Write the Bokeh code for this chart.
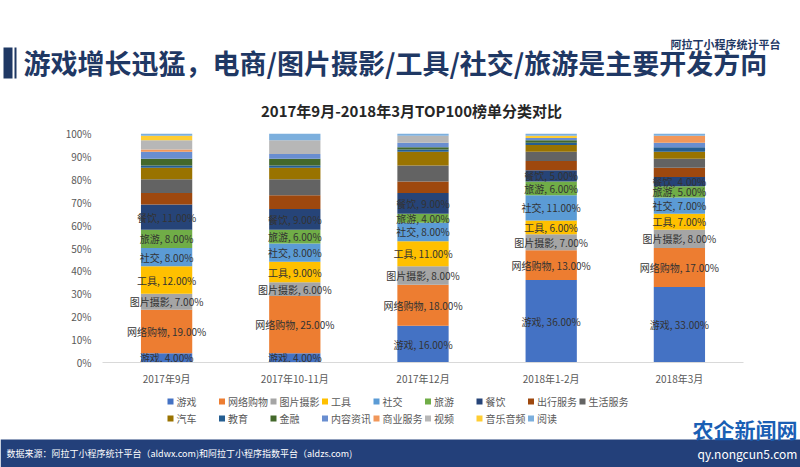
from bokeh.plotting import figure
from bokeh.layouts import column
from bokeh.models import (ColumnDataSource, Label, FixedTicker,
                          Range1d, FactorRange, PrintfTickFormatter)
from bokeh.core.properties import value
from bokeh.embed import file_html
from bokeh.resources import INLINE

# ---------------- data ----------------
months = ["2017年9月", "2017年10-11月", "2017年12月", "2018年1-2月", "2018年3月"]
categories = ["游戏", "网络购物", "图片摄影", "工具", "社交", "旅游", "餐饮",
              "出行服务", "生活服务", "汽车", "教育", "金融", "内容资讯",
              "商业服务", "视频", "音乐音频", "阅读"]

youxi      = [4, 4, 16, 36, 33]
gouwu      = [19, 25, 18, 13, 17]
sheying    = [7, 6, 8, 7, 8]
gongju     = [12, 9, 11, 6, 7]
shejiao    = [8, 8, 8, 11, 7]
lvyou      = [8, 6, 4, 6, 5]
canyin     = [11, 9, 9, 5, 4]
chuxing    = [5, 6, 5, 4, 4]
shenghuo   = [6, 7, 7, 4, 4]
qiche      = [5, 5, 6, 3, 3]
jiaoyu     = [1, 1, 1, 1, 2]
jinrong    = [3, 3, 1, 1, 0]
neirong    = [3, 2, 2, 1, 2]
shangye    = [1, 0, 0, 0, 3]
shipin     = [4, 6, 3, 0, 0]
yinyue     = [2, 0, 0, 1, 0]
yuedu      = [1, 3, 1, 1, 1]

series = [youxi, gouwu, sheying, gongju, shejiao, lvyou, canyin, chuxing,
          shenghuo, qiche, jiaoyu, jinrong, neirong, shangye, shipin, yinyue, yuedu]
labeled_count = 7  # categories that carry data labels

y_ticks = [0, 10, 20, 30, 40, 50, 60, 70, 80, 90, 100]

colors = ["#4472C4", "#ED7D31", "#A5A5A5", "#FFC000", "#5B9BD5", "#70AD47",
          "#264478", "#9E480E", "#636363", "#997300", "#255E91", "#43682B",
          "#698ED0", "#F1975A", "#B7B7B7", "#FFCD33", "#7CAFDD"]

header = "游戏增长迅猛，电商/图片摄影/工具/社交/旅游是主要开发方向"
chart_title = "2017年9月-2018年3月TOP100榜单分类对比"
logo_text = "阿拉丁小程序统计平台"
source_text = "数据来源：阿拉丁小程序统计平台（aldwx.com)和阿拉丁小程序指数平台（aldzs.com)"

FONT = "Noto Sans CJK SC"

# ---------------- layout geometry (canvas px) ----------------
W, H = 800, 467
TOP_H = 120            # header strip height
MID_H = 270            # chart strip height
FL, FR, FT, FB = 102, 743, 133, 362   # plot frame edges


def strip(y0, y1):
    f = figure(width=W, height=y1 - y0, x_range=Range1d(0, W), y_range=Range1d(y1, y0),
               output_backend="svg", toolbar_location=None,
               x_axis_type=None, y_axis_type=None, min_border=0, frame_align=False)
    f.outline_line_color = None
    f.background_fill_color = "white"
    f.border_fill_color = "white"
    return f


def add_text(f, cx, cy, text, size, color, bold=False, align="left"):
    f.add_layout(Label(x=cx, y=cy, text=text, text_font=FONT, text_font_size=f"{size}px",
                       text_color=color, text_font_style="bold" if bold else "normal",
                       text_align=align, text_baseline="middle"))


def add_box(f, x0, y0, x1, y1, color):
    f.quad(left=[x0], right=[x1], top=[y0], bottom=[y1], fill_color=color,
           line_color=None)


# ---------------- header strip ----------------
top = strip(0, TOP_H)
add_box(top, 3, 47, 12, 78, "#1F3864")
add_box(top, 14, 47, 16, 78, "#1F3864")
add_text(top, 23, 62, header, 27, "#1F3864", bold=True)
add_text(top, 670, 43, logo_text, 11, "#1F3864", bold=True)
add_text(top, 411, 110, chart_title, 15, "#262626", bold=True, align="center")

# ---------------- chart strip ----------------
data = {"month": months}
for name, vals in zip(categories, series):
    data[name] = vals
source = ColumnDataSource(data)

p = figure(width=W, height=MID_H, x_range=FactorRange(*months), y_range=Range1d(0, 100),
           output_backend="svg", toolbar_location=None, frame_align=False,
           min_border_left=FL, min_border_right=W - FR,
           min_border_top=FT - TOP_H, min_border_bottom=TOP_H + MID_H - FB)
p.outline_line_color = None
p.background_fill_color = "white"
p.border_fill_color = "white"
p.xgrid.grid_line_color = None
p.ygrid.grid_line_color = None
p.x_range.range_padding = 0

p.vbar_stack(categories, x="month", width=0.4, source=source, color=colors,
             line_color=None)

lx, ly, lt = [], [], []
for i, m in enumerate(months):
    cum = 0
    for k in range(labeled_count):
        v = series[k][i]
        lx.append(m)
        ly.append(cum + v / 2)
        lt.append(f"{categories[k]}, {v:.2f}%")
        cum += v
p.text(x="month_", y="y", text="t",
       source=ColumnDataSource(dict(month_=lx, y=ly, t=lt)),
       text_font=value(FONT), text_font_size="10px", text_color="#333333",
       text_align="center", text_baseline="middle")

p.yaxis.ticker = FixedTicker(ticks=y_ticks)
p.yaxis.formatter = PrintfTickFormatter(format="%d%%")
p.yaxis.axis_line_color = None
p.yaxis.major_tick_line_color = None
p.yaxis.minor_tick_line_color = None
p.yaxis.major_tick_out = 0
p.yaxis.minor_tick_out = 0
p.yaxis.major_label_text_font = FONT
p.yaxis.major_label_text_font_size = "10px"
p.yaxis.major_label_text_color = "#595959"
p.yaxis.major_label_standoff = 11

p.xaxis.axis_line_color = "#D9D9D9"
p.xaxis.major_tick_line_color = None
p.xaxis.minor_tick_line_color = None
p.xaxis.major_tick_out = 0
p.xaxis.minor_tick_out = 0
p.xaxis.major_label_text_font = FONT
p.xaxis.major_label_text_font_size = "10px"
p.xaxis.major_label_text_color = "#595959"
p.xaxis.major_label_standoff = 8

# ---------------- legend + footer strip ----------------
bot = strip(TOP_H + MID_H, H)
for idx, (name, col) in enumerate(zip(categories, colors)):
    row, c = divmod(idx, 9)
    mx = 167 + 51.5 * c
    my = 401 + 17 * row
    add_box(bot, mx, my - 3, mx + 6, my + 3, col)
    add_text(bot, mx + 9, my, name, 10, "#595959")

add_box(bot, 0, 439, 800, 467, "#23407A")
add_text(bot, 6, 453, source_text, 9, "white")
add_text(bot, 692, 428, "农企新闻网", 21, "#1A5FB4", bold=True)
add_text(bot, 697, 453, "qy.nongcun5.com", 12, "white")

layout = column(top, p, bot, spacing=0)
open("out.html", "w").write(file_html(layout, INLINE))
